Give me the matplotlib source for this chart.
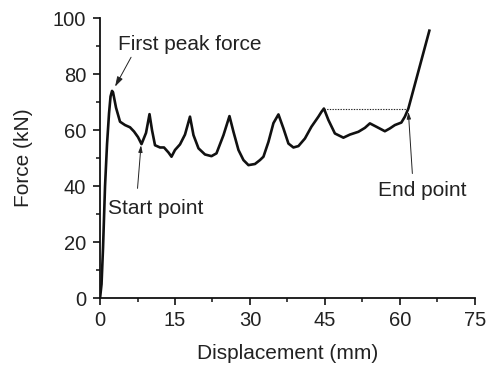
import matplotlib
matplotlib.use("Agg")
import matplotlib.pyplot as plt
from matplotlib.ticker import MultipleLocator

plt.rcParams['font.family'] = ['Liberation Sans', 'DejaVu Sans']

# force-displacement curve
disp = [0, 0.3, 0.6, 1.0, 1.4, 1.8, 2.1, 2.4, 2.6, 3.2, 4.0, 5.0, 6.0, 6.8, 7.6, 8.3,
        9.2, 9.9, 10.4, 11.0, 12.0, 12.8, 13.7, 14.3, 15.0, 16.0, 17.0, 18.0,
        18.7, 19.7, 21.0, 22.3, 23.3, 24.7, 25.9, 26.7, 27.7, 28.7, 29.7, 31.0,
        32.0, 32.7, 33.7, 34.7, 35.7, 36.7, 37.7, 38.7, 39.7, 41.0, 42.3, 43.7,
        44.3, 44.8, 45.7, 47.0, 48.7, 50.0, 51.7, 53.0, 54.0, 55.3, 57.0, 58.0,
        59.0, 60.3, 61.0, 61.7, 65.9]
force = [0, 5, 18, 40, 55, 66, 72, 74, 73.5, 68, 63, 61.8, 61.0, 59.5, 57.5, 55.0,
         59, 65.7, 60, 54.6, 53.8, 53.8, 52, 50.5, 52.9, 54.9, 58.4, 64.8,
         58.2, 53.5, 51.3, 50.7, 51.7, 58.2, 65, 59.4, 52.9, 49.3, 47.5, 47.9,
         49.3, 50.5, 55.8, 62.5, 65.6, 60.6, 55.2, 53.8, 54.3, 57, 61.2, 64.8,
         66.5, 67.7, 63.6, 58.8, 57.3, 58.4, 59.4, 60.8, 62.4, 61.2, 59.6, 60.6,
         61.8, 62.7, 64.8, 67.7, 95.5]

plateau_x = [44.8, 61.5]
plateau_y = [67.7, 67.7]

fig = plt.figure(figsize=(4.88, 3.69), dpi=100)
ax = fig.add_axes([0.205, 0.192, 0.768, 0.759])

ax.plot(disp, force, color='#111111', lw=1.9, solid_joinstyle='round')
ax.plot(plateau_x, plateau_y, color='#222222', lw=0.8, ls=(0, (1.2, 1.2)))

arrow = dict(arrowstyle='-|>,head_length=0.4,head_width=0.12', color='#222222', lw=0.7,
             shrinkA=0, shrinkB=0)
txt = dict(fontsize=15, color='#222222', ha='center', va='center')
ax.annotate('First peak force', xy=(3.0, 75.5), xytext=(18, 90.4),
            arrowprops=dict(arrow, relpos=(0.1, 0.0)), **txt)
ax.annotate('', xy=(8.2, 54.6), xytext=(7.5, 39.2), arrowprops=arrow)
ax.text(11.2, 32, 'Start point', **txt)
ax.annotate('', xy=(61.7, 66.5), xytext=(62.5, 44.5), arrowprops=arrow)
ax.text(64.5, 38.6, 'End point', **txt)

ax.set_xlim(0, 75)
ax.set_ylim(0, 100)
ax.xaxis.set_major_locator(MultipleLocator(15))
ax.xaxis.set_minor_locator(MultipleLocator(7.5))
ax.yaxis.set_major_locator(MultipleLocator(20))
ax.yaxis.set_minor_locator(MultipleLocator(10))
for s in ['top', 'right']:
    ax.spines[s].set_visible(False)
for s in ['left', 'bottom']:
    ax.spines[s].set_linewidth(1.3)
    ax.spines[s].set_color('#111111')
ax.tick_params(which='major', direction='out', length=5, width=1.2, labelsize=14.5,
               labelcolor='#222222', color='#111111')
ax.tick_params(axis='x', which='major', pad=4)
ax.tick_params(axis='y', which='major', pad=5)
ax.tick_params(which='minor', direction='out', length=3, width=1.1, color='#111111')
ax.set_xlabel('Displacement (mm)', fontsize=15, color='#222222', labelpad=10)
ax.set_ylabel('Force (kN)', fontsize=15, color='#222222', labelpad=14)

fig.savefig('out.png', dpi=100)
